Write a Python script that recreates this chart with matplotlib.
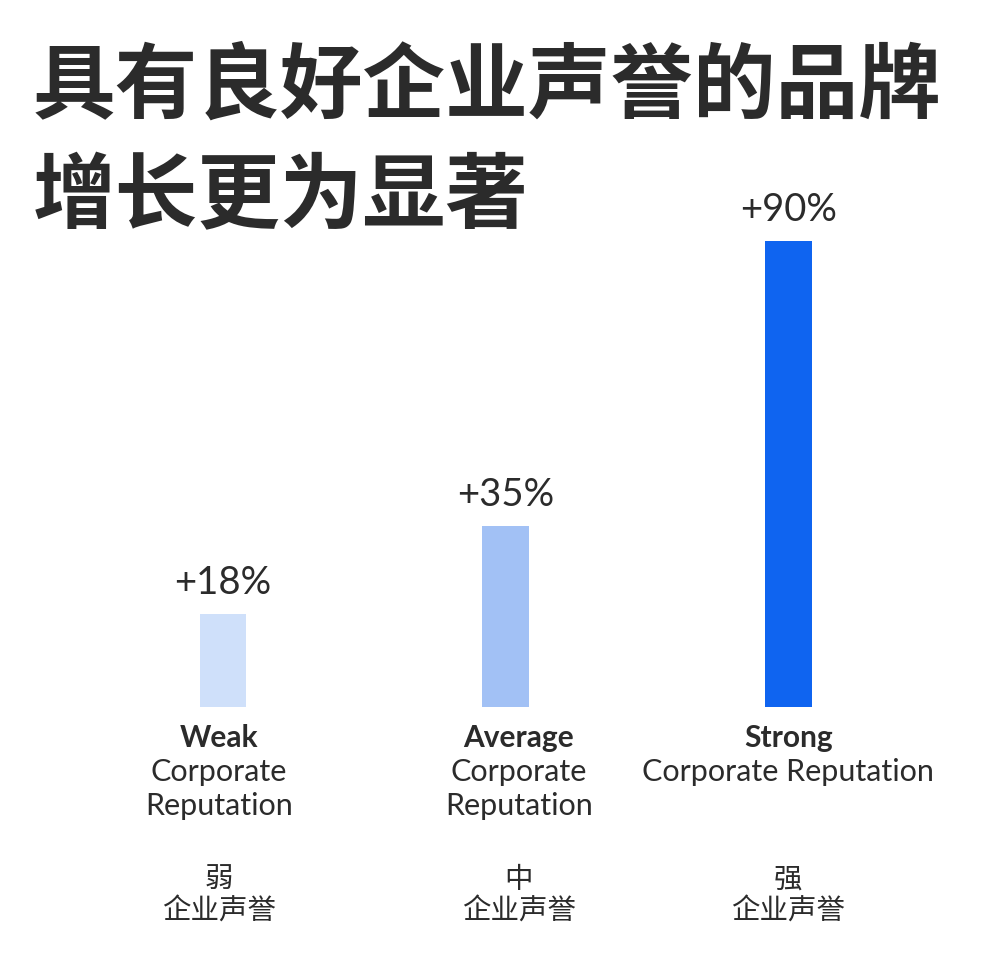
import matplotlib
matplotlib.use("Agg")
import matplotlib.pyplot as plt

# data
levels = ["Weak", "Average", "Strong"]
growth = [18, 35, 90]
value_labels = ["+18%", "+35%", "+90%"]
cn_levels = ["弱", "中", "强"]
sub_en = ["Corporate\nReputation", "Corporate\nReputation", "Corporate Reputation"]
bar_colors = ["#cfe0fa", "#a2c1f5", "#0f64f0"]

title_1 = "具有良好企业声誉的品牌"
title_2 = "增长更为显著"

txt = "#2b2b2b"
latin = ["Lato", "DejaVu Sans"]
cjk = ["Noto Sans CJK SC", "DejaVu Sans"]
# small horizontal shift of the label block under each bar (points)
label_dx = [-2.9, 9.4, 0]

fig = plt.figure(figsize=(9.99, 9.63), dpi=100)
ax = fig.add_axes([0, 0.2658, 1, 0.538])
x = list(range(len(levels)))
ax.bar(x, growth, width=0.166, color=bar_colors)
ax.set_xlim(-223 / 282.7, (999 - 223) / 282.7)
ax.set_ylim(0, 100)
ax.axis("off")

for i in x:
    dx = label_dx[i]
    ax.annotate(value_labels[i], (i, growth[i]), xytext=(0, 22), textcoords="offset points",
                ha="center", va="center", fontsize=27.5, color=txt, family=latin)
    ax.annotate(levels[i], (i, 0), xytext=(dx, -22.3), textcoords="offset points",
                ha="center", va="center", fontsize=21.5, fontweight="bold", color=txt,
                family=latin, annotation_clip=False)
    lines = sub_en[i].split("\n")
    for k, line in enumerate(lines):
        ax.annotate(line, (i, 0), xytext=(dx, -46.8 - 24.5 * k), textcoords="offset points",
                    ha="center", va="center", fontsize=22, color=txt,
                    family=latin, annotation_clip=False)
    ax.annotate(cn_levels[i], (i, 0), xytext=(dx, -124.6), textcoords="offset points",
                ha="center", va="center", fontsize=20.5, color=txt,
                family=cjk, annotation_clip=False)
    ax.annotate("企业声誉", (i, 0), xytext=(dx, -147.6), textcoords="offset points",
                ha="center", va="center", fontsize=20.5, color=txt,
                family=cjk, annotation_clip=False)

fig.text(33 / 999, 1 - 87 / 963, title_1, ha="left", va="center", fontsize=59.5,
         fontweight="bold", color=txt, family=cjk)
fig.text(33 / 999, 1 - 198 / 963, title_2, ha="left", va="center", fontsize=59.5,
         fontweight="bold", color=txt, family=cjk)

fig.savefig("out.png", dpi=100, facecolor="white")
